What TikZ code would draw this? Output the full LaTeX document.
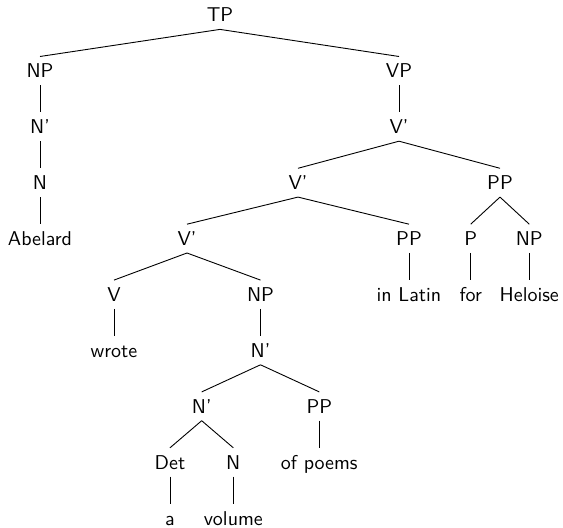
\documentclass[tikz,border=0pt]{standalone}
\begin{document}
\begin{tikzpicture}[x=0.5pt,y=-0.5pt,
  lbl/.style={font=\sffamily\fontsize{10}{12}\selectfont, anchor=base, text height=7pt, text depth=0pt, inner xsep=0pt, inner ysep=3.5pt},
  edge/.style={draw=black, line width=0.45pt}]
\useasboundingbox (0,0) rectangle (563,528);
% rows
\def\ra{22}\def\rb{77.9}\def\rc{133.8}\def\rd{189.7}\def\re{245.6}
\def\rf{301.5}\def\rg{357.4}\def\rh{413.3}\def\ri{469.2}\def\rj{525.1}
\node[lbl] (tp) at (220,\ra) {TP};
\node[lbl] (np1) at (40,\rb) {NP};
\node[lbl] (vp) at (399,\rb) {VP};
\node[lbl] (nb1) at (40,\rc) {N'};
\node[lbl] (vb1) at (399,\rc) {V'};
\node[lbl] (n1) at (40,\rd) {N};
\node[lbl] (vb2) at (298,\rd) {V'};
\node[lbl] (pp1) at (500,\rd) {PP};
\node[lbl] (abelard) at (40,\re) {Abelard};
\node[lbl] (vb3) at (187,\re) {V'};
\node[lbl] (pp2) at (409,\re) {PP};
\node[lbl] (p1) at (470.7,\re) {P};
\node[lbl] (np2) at (529.3,\re) {NP};
\node[lbl] (v) at (114,\rf) {V};
\node[lbl] (np3) at (260.5,\rf) {NP};
\node[lbl] (inlatin) at (409,\rf) {in Latin};
\node[lbl] (for) at (470.7,\rf) {for};
\node[lbl] (heloise) at (529.3,\rf) {Heloise};
\node[lbl] (wrote) at (114,\rg) {wrote};
\node[lbl] (nb2) at (260.5,\rg) {N'};
\node[lbl] (nb3) at (201.7,\rh) {N'};
\node[lbl] (pp3) at (319.3,\rh) {PP};
\node[lbl] (det) at (170,\ri) {Det};
\node[lbl] (n2) at (233.3,\ri) {N};
\node[lbl] (ofpoems) at (319.3,\ri) {of poems};
\node[lbl] (a) at (170,\rj) {a};
\node[lbl] (volume) at (233.3,\rj) {volume};
% edges
\draw[edge] (tp.south) -- (np1.north);
\draw[edge] (tp.south) -- (vp.north);
\draw[edge] (np1.south) -- (nb1.north);
\draw[edge] (nb1.south) -- (n1.north);
\draw[edge] (n1.south) -- (abelard.north);
\draw[edge] (vp.south) -- (vb1.north);
\draw[edge] (vb1.south) -- (vb2.north);
\draw[edge] (vb1.south) -- (pp1.north);
\draw[edge] (pp1.south) -- (p1.north);
\draw[edge] (pp1.south) -- (np2.north);
\draw[edge] (p1.south) -- (for.north);
\draw[edge] (np2.south) -- (heloise.north);
\draw[edge] (vb2.south) -- (vb3.north);
\draw[edge] (vb2.south) -- (pp2.north);
\draw[edge] (pp2.south) -- (inlatin.north);
\draw[edge] (vb3.south) -- (v.north);
\draw[edge] (vb3.south) -- (np3.north);
\draw[edge] (v.south) -- (wrote.north);
\draw[edge] (np3.south) -- (nb2.north);
\draw[edge] (nb2.south) -- (nb3.north);
\draw[edge] (nb2.south) -- (pp3.north);
\draw[edge] (nb3.south) -- (det.north);
\draw[edge] (nb3.south) -- (n2.north);
\draw[edge] (pp3.south) -- (ofpoems.north);
\draw[edge] (det.south) -- (a.north);
\draw[edge] (n2.south) -- (volume.north);
\end{tikzpicture}
\end{document}
